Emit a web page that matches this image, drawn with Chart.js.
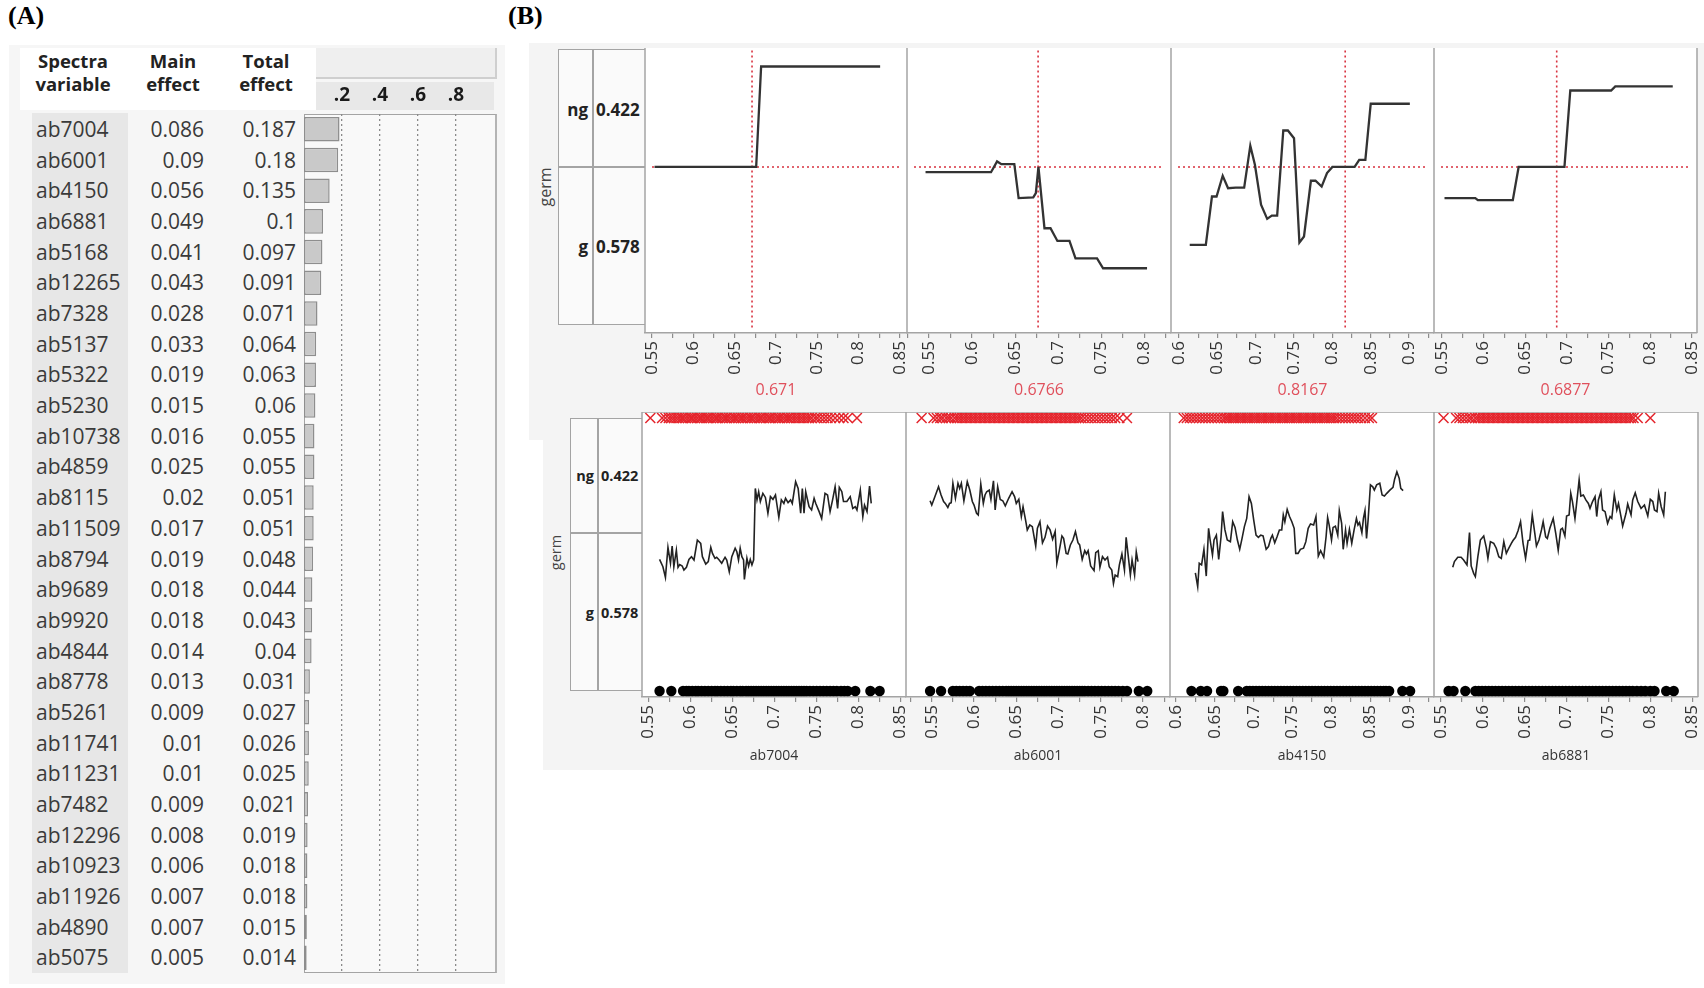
<!DOCTYPE html>
<html>
<head>
<meta charset="utf-8">
<script src="https://cdn.jsdelivr.net/npm/chart.js@4.4.1/dist/chart.umd.min.js"></script>
<style>
  body { margin: 0; width: 1704px; height: 988px; background: #fff; position: relative; overflow: hidden;
         font-family: "Open Sans", "DejaVu Sans", sans-serif; color: #333; }
  .abs { position: absolute; }
  .tag { font-family: "Liberation Serif", serif; font-weight: bold; font-size: 26px; color: #000; }
  .hdr { font-weight: bold; font-size: 18.5px; line-height: 23px; text-align: center; color: #222; }
  .row { position: absolute; left: 0; width: 300px; height: 30.68px; font-size: 21px; color: #3a3a3a; }
  .row span { position: absolute; top: 0; line-height: 30.68px; white-space: nowrap; }
  .lbl { font-weight: bold; color: #222; white-space: nowrap; }
  .germ { transform: rotate(-90deg); transform-origin: center; color: #444; white-space: nowrap; }
  canvas { position: absolute; }
</style>
</head>
<body>

<div class="abs tag" style="left:8px;top:1px;">(A)</div>
<div class="abs tag" style="left:508px;top:1px;">(B)</div>

<!-- panel A backgrounds -->
<div class="abs" style="left:9px;top:45px;width:496px;height:939px;background:#f6f6f6;"></div>
<div class="abs" style="left:20px;top:48px;width:296px;height:62px;background:#fff;"></div>
<div class="abs" style="left:316px;top:48px;width:179px;height:29px;background:#efefef;border-right:2px solid #cfcfcf;border-bottom:2px solid #cfcfcf;"></div>
<div class="abs" style="left:316px;top:82px;width:178px;height:28px;background:#e8e8e8;"></div>
<div class="abs" style="left:32px;top:113px;width:96px;height:860px;background:#e7e7e7;"></div>
<div class="abs" style="left:304px;top:114px;width:190px;height:857px;background:#f9f9f9;border:1.5px solid #a4a4a4;border-right:2.5px solid #b4b4b4;"></div>

<div class="abs hdr" style="left:23px;top:49px;width:100px;">Spectra<br>variable</div>
<div class="abs hdr" style="left:123px;top:49px;width:100px;">Main<br>effect</div>
<div class="abs hdr" style="left:216px;top:49px;width:100px;">Total<br>effect</div>
<div id="rows" class="abs" style="left:0;top:114px;width:300px;height:860px;"></div>

<!-- panel B backgrounds -->
<div class="abs" style="left:529px;top:43px;width:1175px;height:397px;background:#f4f4f4;"></div>
<div class="abs" style="left:543px;top:407px;width:1161px;height:363px;background:#f4f4f4;"></div>

<!-- top label box -->
<div class="abs" style="left:558px;top:49px;width:87px;height:276px;background:#fafafa;border:1.5px solid #a4a4a4;border-right:none;box-sizing:border-box;"></div>
<div class="abs" style="left:592px;top:49px;width:1.5px;height:276px;background:#a4a4a4;"></div>
<div class="abs" style="left:558px;top:166px;width:87px;height:1.5px;background:#a4a4a4;"></div>
<div id="topLevels"></div>
<div class="abs germ" style="left:525px;top:176px;width:40px;text-align:center;font-size:16px;">germ</div>

<!-- bottom label box -->
<div class="abs" style="left:570px;top:418px;width:72px;height:273px;background:#fafafa;border:1.5px solid #a4a4a4;border-right:none;box-sizing:border-box;"></div>
<div class="abs" style="left:597px;top:418px;width:1.5px;height:273px;background:#a4a4a4;"></div>
<div class="abs" style="left:570px;top:532px;width:72px;height:1.5px;background:#a4a4a4;"></div>
<div id="botLevels"></div>
<div class="abs germ" style="left:535px;top:543px;width:40px;text-align:center;font-size:14.5px;">germ</div>

<canvas id="bars" width="190" height="893" style="left:304px;top:80px;"></canvas>
<div id="plots"></div>

<script>
// ---------- panel A data ----------
const variables = ["ab7004","ab6001","ab4150","ab6881","ab5168","ab12265","ab7328","ab5137","ab5322","ab5230",
  "ab10738","ab4859","ab8115","ab11509","ab8794","ab9689","ab9920","ab4844","ab8778","ab5261","ab11741",
  "ab11231","ab7482","ab12296","ab10923","ab11926","ab4890","ab5075"];
const mainEffect = ["0.086","0.09","0.056","0.049","0.041","0.043","0.028","0.033","0.019","0.015","0.016","0.025",
  "0.02","0.017","0.019","0.018","0.018","0.014","0.013","0.009","0.01","0.01","0.009","0.008","0.006","0.007","0.007","0.005"];
const totalEffect = [0.187,0.18,0.135,0.1,0.097,0.091,0.071,0.064,0.063,0.06,0.055,0.055,0.051,0.051,0.048,0.044,
  0.043,0.04,0.031,0.027,0.026,0.025,0.021,0.019,0.018,0.018,0.015,0.014];
const barTicks = [0.2, 0.4, 0.6, 0.8];
const barTickLabels = [".2", ".4", ".6", ".8"];

// ---------- panel B data ----------
const factors = ["ab7004", "ab6001", "ab4150", "ab6881"];
const currentValues = [0.671, 0.6766, 0.8167, 0.6877];
const currentLabels = ["0.671", "0.6766", "0.8167", "0.6877"];
const levels = ["ng", "g"];
const levelProbs = ["0.422", "0.578"];
const predicted = 0.578;

const ticks7004 = [0.55,0.575,0.6,0.625,0.65,0.675,0.7,0.725,0.75,0.775,0.8,0.825,0.85];
const ticks6001 = [0.525,0.55,0.575,0.6,0.625,0.65,0.675,0.7,0.725,0.75,0.775,0.8,0.825];
const ticks4150 = [0.6,0.625,0.65,0.675,0.7,0.725,0.75,0.775,0.8,0.825,0.85,0.875,0.9,0.925];
const ticks6881 = [0.55,0.575,0.6,0.625,0.65,0.675,0.7,0.725,0.75,0.775,0.8,0.825,0.85];

// profiler traces: [factor value, cumulative probability]
const prof7004 = [[0.553,0.578],[0.676,0.578],[0.682,0.942],[0.826,0.942]];
const prof6001 = [[0.546,0.559],[0.622,0.559],[0.629,0.598],[0.634,0.588],[0.649,0.588],[0.654,0.465],
  [0.671,0.468],[0.674,0.483],[0.677,0.578],[0.684,0.356],[0.691,0.356],[0.699,0.310],[0.713,0.310],
  [0.720,0.247],[0.745,0.247],[0.752,0.211],[0.803,0.211]];
const prof4150 = [[0.614,0.296],[0.635,0.296],[0.643,0.471],[0.649,0.471],[0.657,0.546],[0.664,0.501],
  [0.674,0.503],[0.685,0.503],[0.693,0.655],[0.699,0.586],[0.707,0.441],[0.715,0.390],[0.721,0.402],
  [0.728,0.402],[0.736,0.710],[0.742,0.710],[0.750,0.682],[0.757,0.304],[0.763,0.326],[0.772,0.528],
  [0.778,0.528],[0.786,0.507],[0.793,0.556],[0.800,0.578],[0.829,0.578],[0.835,0.604],[0.843,0.604],
  [0.850,0.807],[0.901,0.807]];
const prof6881 = [[0.553,0.465],[0.590,0.465],[0.593,0.458],[0.635,0.458],[0.642,0.578],[0.697,0.578],
  [0.704,0.855],[0.753,0.855],[0.758,0.870],[0.827,0.870]];

// observed-probability traces
const obs7004 = [[0.563,0.482],[0.567,0.455],[0.570,0.416],[0.573,0.526],[0.576,0.468],[0.578,0.531],[0.580,0.455],
  [0.583,0.516],[0.585,0.453],[0.587,0.463],[0.590,0.458],[0.592,0.443],[0.595,0.453],[0.598,0.482],[0.601,0.492],
  [0.604,0.480],[0.608,0.553],[0.612,0.541],[0.614,0.492],[0.618,0.465],[0.621,0.474],[0.624,0.526],[0.626,0.504],
  [0.629,0.486],[0.631,0.490],[0.634,0.480],[0.637,0.468],[0.641,0.490],[0.643,0.480],[0.646,0.437],[0.649,0.492],
  [0.653,0.523],[0.655,0.510],[0.657,0.480],[0.659,0.523],[0.661,0.492],[0.663,0.480],[0.664,0.409],[0.667,0.486],
  [0.669,0.458],[0.671,0.482],[0.673,0.462],[0.675,0.480],[0.677,0.742],[0.679,0.700],[0.681,0.730],[0.683,0.694],
  [0.686,0.724],[0.689,0.709],[0.692,0.651],[0.695,0.712],[0.698,0.702],[0.701,0.718],[0.705,0.636],[0.708,0.700],
  [0.711,0.687],[0.713,0.706],[0.716,0.690],[0.719,0.700],[0.721,0.687],[0.725,0.767],[0.728,0.742],[0.731,0.651],
  [0.733,0.742],[0.735,0.651],[0.737,0.730],[0.741,0.675],[0.744,0.663],[0.747,0.706],[0.749,0.687],[0.753,0.657],
  [0.756,0.632],[0.760,0.724],[0.763,0.718],[0.766,0.657],[0.769,0.700],[0.772,0.748],[0.775,0.669],[0.777,0.746],
  [0.780,0.730],[0.782,0.694],[0.786,0.694],[0.790,0.712],[0.793,0.669],[0.796,0.675],[0.798,0.663],[0.802,0.736],
  [0.805,0.639],[0.807,0.681],[0.810,0.657],[0.813,0.751],[0.815,0.687]];
const obs6001 = [[0.548,0.697],[0.550,0.681],[0.553,0.706],[0.558,0.748],[0.561,0.718],[0.564,0.694],[0.566,0.687],
  [0.569,0.672],[0.571,0.687],[0.573,0.690],[0.575,0.761],[0.578,0.706],[0.581,0.761],[0.583,0.742],[0.585,0.761],
  [0.588,0.696],[0.592,0.767],[0.595,0.736],[0.598,0.694],[0.600,0.681],[0.603,0.651],[0.605,0.645],[0.608,0.758],
  [0.611,0.687],[0.613,0.718],[0.615,0.730],[0.618,0.736],[0.620,0.702],[0.623,0.770],[0.625,0.663],[0.628,0.748],
  [0.631,0.702],[0.634,0.697],[0.637,0.678],[0.641,0.706],[0.645,0.730],[0.648,0.712],[0.650,0.687],[0.653,0.702],
  [0.656,0.639],[0.658,0.675],[0.661,0.626],[0.663,0.590],[0.666,0.608],[0.669,0.602],[0.673,0.531],[0.675,0.596],
  [0.678,0.620],[0.681,0.543],[0.684,0.563],[0.687,0.604],[0.690,0.590],[0.693,0.556],[0.696,0.584],[0.698,0.468],
  [0.701,0.516],[0.704,0.568],[0.706,0.559],[0.709,0.504],[0.711,0.502],[0.714,0.535],[0.717,0.553],[0.720,0.584],
  [0.723,0.543],[0.725,0.535],[0.728,0.482],[0.731,0.514],[0.733,0.502],[0.735,0.514],[0.738,0.458],[0.742,0.441],
  [0.744,0.507],[0.747,0.514],[0.749,0.453],[0.752,0.492],[0.755,0.480],[0.758,0.490],[0.760,0.455],[0.763,0.443],
  [0.765,0.394],[0.767,0.425],[0.770,0.419],[0.772,0.462],[0.775,0.502],[0.778,0.443],[0.780,0.563],[0.783,0.480],
  [0.785,0.425],[0.787,0.480],[0.790,0.425],[0.792,0.510],[0.794,0.474]];
const obs4150 = [[0.625,0.433],[0.628,0.382],[0.630,0.468],[0.633,0.462],[0.636,0.519],[0.639,0.421],[0.642,0.596],
  [0.644,0.553],[0.647,0.498],[0.649,0.553],[0.652,0.571],[0.655,0.482],[0.658,0.565],[0.660,0.657],[0.663,0.590],
  [0.666,0.553],[0.670,0.547],[0.673,0.620],[0.676,0.599],[0.679,0.553],[0.682,0.519],[0.685,0.559],[0.688,0.602],
  [0.691,0.632],[0.694,0.712],[0.697,0.687],[0.700,0.626],[0.703,0.571],[0.706,0.563],[0.709,0.571],[0.712,0.568],
  [0.716,0.519],[0.719,0.529],[0.722,0.559],[0.724,0.571],[0.727,0.543],[0.730,0.565],[0.733,0.590],[0.736,0.590],
  [0.738,0.645],[0.740,0.620],[0.743,0.665],[0.746,0.639],[0.749,0.620],[0.752,0.596],[0.754,0.504],[0.757,0.504],
  [0.760,0.519],[0.764,0.523],[0.767,0.547],[0.770,0.596],[0.773,0.612],[0.777,0.608],[0.780,0.639],[0.783,0.494],
  [0.786,0.514],[0.790,0.490],[0.793,0.565],[0.795,0.636],[0.797,0.608],[0.800,0.553],[0.802,0.599],[0.805,0.604],
  [0.808,0.571],[0.810,0.661],[0.813,0.614],[0.815,0.519],[0.818,0.590],[0.820,0.541],[0.823,0.592],[0.826,0.541],
  [0.829,0.590],[0.832,0.632],[0.834,0.608],[0.836,0.617],[0.839,0.580],[0.841,0.632],[0.843,0.661],[0.845,0.559],
  [0.847,0.626],[0.850,0.755],[0.853,0.748],[0.855,0.736],[0.858,0.755],[0.862,0.761],[0.865,0.718],[0.868,0.714],
  [0.871,0.724],[0.875,0.736],[0.879,0.746],[0.881,0.775],[0.884,0.803],[0.887,0.779],[0.889,0.742],[0.892,0.734]];
const obs6881 = [[0.564,0.453],[0.566,0.474],[0.570,0.490],[0.574,0.490],[0.577,0.480],[0.581,0.462],[0.584,0.580],
  [0.586,0.458],[0.589,0.431],[0.591,0.419],[0.594,0.492],[0.597,0.553],[0.601,0.568],[0.604,0.526],[0.606,0.486],
  [0.609,0.547],[0.613,0.541],[0.616,0.523],[0.619,0.492],[0.622,0.486],[0.625,0.547],[0.628,0.504],[0.631,0.523],
  [0.634,0.541],[0.636,0.551],[0.639,0.563],[0.642,0.587],[0.645,0.620],[0.648,0.541],[0.651,0.486],[0.654,0.551],
  [0.656,0.553],[0.659,0.645],[0.662,0.578],[0.664,0.531],[0.667,0.553],[0.670,0.590],[0.672,0.620],[0.675,0.565],
  [0.677,0.559],[0.680,0.596],[0.684,0.632],[0.687,0.578],[0.690,0.516],[0.693,0.592],[0.695,0.596],[0.698,0.568],
  [0.700,0.641],[0.703,0.645],[0.705,0.724],[0.707,0.694],[0.710,0.632],[0.712,0.687],[0.715,0.773],[0.717,0.714],
  [0.720,0.718],[0.723,0.700],[0.726,0.687],[0.728,0.669],[0.731,0.694],[0.734,0.712],[0.736,0.639],[0.738,0.700],
  [0.741,0.730],[0.743,0.663],[0.746,0.657],[0.749,0.614],[0.752,0.639],[0.754,0.632],[0.757,0.718],[0.760,0.663],
  [0.762,0.687],[0.765,0.639],[0.767,0.604],[0.771,0.651],[0.773,0.685],[0.777,0.645],[0.779,0.700],[0.782,0.726],
  [0.785,0.694],[0.789,0.669],[0.791,0.675],[0.793,0.681],[0.797,0.641],[0.800,0.702],[0.803,0.694],[0.805,0.663],
  [0.808,0.657],[0.810,0.724],[0.813,0.675],[0.816,0.645],[0.818,0.730]];

// observed rows: factor values of "ng" (top, x marks) and "g" (bottom, dots)
const ng7004 = [0.552,0.566,0.570,0.574,0.577,0.580,0.583,0.586,0.589,0.591,0.594,0.597,0.600,0.602,0.605,0.608,
  0.611,0.613,0.616,0.619,0.621,0.624,0.627,0.630,0.632,0.635,0.638,0.641,0.643,0.646,0.649,0.652,0.654,0.657,
  0.660,0.662,0.665,0.668,0.671,0.673,0.676,0.679,0.682,0.684,0.687,0.690,0.693,0.695,0.698,0.701,0.704,0.706,
  0.709,0.712,0.715,0.717,0.720,0.723,0.726,0.729,0.732,0.735,0.738,0.741,0.744,0.748,0.751,0.755,0.759,0.763,
  0.767,0.772,0.777,0.782,0.787,0.798];
const g7004 = [0.563,0.577,0.591,0.595,0.598,0.602,0.606,0.609,0.613,0.617,0.621,0.625,0.629,0.632,0.636,0.640,
  0.644,0.648,0.651,0.655,0.659,0.662,0.666,0.669,0.672,0.675,0.678,0.681,0.684,0.687,0.690,0.693,0.696,0.699,
  0.702,0.705,0.708,0.711,0.714,0.717,0.720,0.723,0.726,0.729,0.732,0.735,0.738,0.742,0.746,0.750,0.754,0.758,
  0.762,0.766,0.770,0.774,0.779,0.783,0.787,0.796,0.814,0.825];
const ng6001 = [0.538,0.552,0.556,0.560,0.563,0.567,0.570,0.573,0.577,0.580,0.583,0.586,0.589,0.592,0.595,0.598,
  0.601,0.604,0.607,0.610,0.613,0.616,0.619,0.622,0.625,0.628,0.631,0.634,0.637,0.640,0.643,0.646,0.649,0.652,
  0.655,0.658,0.661,0.664,0.667,0.670,0.673,0.676,0.679,0.682,0.685,0.688,0.691,0.694,0.697,0.700,0.703,0.706,
  0.709,0.712,0.715,0.718,0.721,0.724,0.727,0.731,0.735,0.739,0.743,0.747,0.751,0.755,0.759,0.763,0.767,0.772,0.781];
const g6001 = [0.548,0.561,0.575,0.579,0.583,0.587,0.591,0.595,0.606,0.610,0.614,0.618,0.622,0.626,0.630,0.634,
  0.638,0.641,0.644,0.647,0.650,0.653,0.656,0.659,0.662,0.665,0.668,0.671,0.674,0.677,0.680,0.683,0.686,0.689,
  0.692,0.695,0.698,0.701,0.704,0.707,0.710,0.713,0.716,0.719,0.722,0.725,0.728,0.731,0.735,0.739,0.743,0.747,
  0.751,0.755,0.759,0.763,0.767,0.771,0.776,0.781,0.795,0.805];
const ng4150 = [0.610,0.614,0.618,0.622,0.626,0.630,0.634,0.638,0.642,0.646,0.650,0.654,0.658,0.662,0.665,0.668,
  0.671,0.674,0.677,0.680,0.683,0.686,0.689,0.692,0.695,0.698,0.701,0.704,0.707,0.710,0.713,0.716,0.719,0.722,
  0.725,0.728,0.731,0.734,0.737,0.740,0.743,0.746,0.749,0.752,0.755,0.758,0.761,0.764,0.767,0.770,0.773,0.776,
  0.779,0.782,0.785,0.788,0.791,0.794,0.797,0.800,0.803,0.806,0.810,0.814,0.818,0.822,0.826,0.830,0.834,0.838,
  0.843,0.848,0.852];
const g4150 = [0.620,0.632,0.640,0.658,0.661,0.680,0.691,0.695,0.699,0.703,0.707,0.711,0.715,0.719,0.723,0.727,
  0.731,0.735,0.739,0.743,0.747,0.751,0.755,0.759,0.763,0.767,0.771,0.775,0.779,0.783,0.787,0.791,0.795,0.799,
  0.803,0.807,0.811,0.815,0.819,0.823,0.827,0.831,0.835,0.839,0.843,0.847,0.851,0.855,0.859,0.863,0.867,0.870,
  0.874,0.891,0.901];
const ng6881 = [0.553,0.568,0.572,0.576,0.580,0.584,0.587,0.591,0.594,0.597,0.600,0.603,0.606,0.609,0.612,0.615,
  0.618,0.621,0.624,0.627,0.630,0.633,0.636,0.639,0.642,0.645,0.648,0.651,0.654,0.657,0.660,0.663,0.666,0.669,
  0.672,0.675,0.678,0.681,0.684,0.687,0.690,0.693,0.696,0.699,0.702,0.705,0.708,0.711,0.714,0.717,0.720,0.723,
  0.726,0.729,0.732,0.735,0.738,0.741,0.744,0.747,0.750,0.753,0.756,0.759,0.762,0.765,0.768,0.771,0.774,0.777,
  0.780,0.785,0.800];
const g6881 = [0.559,0.565,0.579,0.591,0.595,0.599,0.603,0.607,0.611,0.615,0.619,0.623,0.627,0.631,0.635,0.639,
  0.643,0.647,0.651,0.655,0.659,0.663,0.667,0.671,0.675,0.679,0.683,0.687,0.691,0.695,0.699,0.703,0.707,0.711,
  0.715,0.719,0.723,0.727,0.731,0.735,0.739,0.743,0.747,0.751,0.755,0.759,0.763,0.767,0.771,0.775,0.779,0.784,
  0.789,0.794,0.800,0.805,0.819,0.828];

const FONT = '"Open Sans", "DejaVu Sans", sans-serif';
const ROW_H = 30.68;

// table text
const rowsEl = document.getElementById("rows");
variables.forEach((v, i) => {
  const r = document.createElement("div");
  r.className = "row";
  r.style.top = (i * ROW_H) + "px";
  r.innerHTML = '<span style="left:36px">' + v + '</span>' +
    '<span style="right:96px">' + mainEffect[i] + '</span>' +
    '<span style="right:4px">' + totalEffect[i] + '</span>';
  rowsEl.appendChild(r);
});

// level labels in the boxes
function levelLabels(el, right, left, ys, size) {
  levels.forEach((lv, i) => {
    el.insertAdjacentHTML("beforeend",
      '<div class="abs lbl" style="right:' + (1704 - right) + 'px;top:' + (ys[i] - size * 0.7) + 'px;font-size:' + size + 'px">' + lv + '</div>' +
      '<div class="abs lbl" style="left:' + left + 'px;top:' + (ys[i] - size * 0.7) + 'px;font-size:' + size + 'px">' + levelProbs[i] + '</div>');
  });
}
levelLabels(document.getElementById("topLevels"), 588, 596, [110, 247], 17);
levelLabels(document.getElementById("botLevels"), 594, 601, [476, 613], 14.5);

// bar chart
new Chart(document.getElementById("bars"), {
  type: "bar",
  data: {
    labels: variables,
    datasets: [{
      data: totalEffect,
      backgroundColor: "#c9c9c9",
      borderColor: "#8e8e8e",
      borderWidth: 1.5,
      borderSkipped: false,
      barPercentage: 0.8,
      categoryPercentage: 1
    }]
  },
  options: {
    indexAxis: "y",
    responsive: false,
    animation: false,
    layout: { padding: 0, autoPadding: false },
    plugins: { legend: { display: false }, tooltip: { enabled: false } },
    scales: {
      x: {
        position: "top", min: 0, max: 1,
        afterBuildTicks: s => { s.ticks = barTicks.map(v => ({ value: v })); },
        afterFit: s => { s.height = 34; s.paddingLeft = 0; s.paddingRight = 0; },
        ticks: { padding: 7, color: "#1a1a1a", font: { family: FONT, size: 19, weight: "bold" },
                 callback: (v, i) => barTickLabels[i] },
        grid: { drawTicks: false, color: "#8a8a8a", lineWidth: 1.3 },
        border: { display: false, dash: [2, 3] }
      },
      y: { display: false }
    }
  }
});

// profile panels
const framePlugin = {
  id: "frame",
  beforeDraw(chart) {
    const { ctx, chartArea: a } = chart;
    ctx.save();
    ctx.fillStyle = "#ffffff";
    ctx.fillRect(a.left, a.top, a.right - a.left, a.bottom - a.top);
    ctx.restore();
  },
  beforeDatasetsDraw(chart, args, o) {
    if (o.refX == null) return;
    const { ctx, chartArea: a, scales: { x, y } } = chart;
    ctx.save();
    ctx.strokeStyle = "#d8323f";
    ctx.lineWidth = 1.6;
    ctx.setLineDash([2, 3]);
    const px = x.getPixelForValue(o.refX);
    ctx.beginPath(); ctx.moveTo(px, y.getPixelForValue(1)); ctx.lineTo(px, y.getPixelForValue(-0.01)); ctx.stroke();
    const py = y.getPixelForValue(o.refY);
    ctx.beginPath(); ctx.moveTo(a.left + 7, py); ctx.lineTo(a.right - 8, py); ctx.stroke();
    ctx.restore();
  },
  afterDraw(chart, args, o) {
    const { ctx, chartArea: a } = chart;
    ctx.save();
    ctx.strokeStyle = "#a4a4a4";
    ctx.lineWidth = 1.5;
    ctx.beginPath();
    ctx.moveTo(a.left, a.bottom); ctx.lineTo(a.left, a.top);
    if (o.top) ctx.lineTo(a.right, a.top);
    if (o.right) { ctx.moveTo(a.right, a.top); ctx.lineTo(a.right, a.bottom); }
    ctx.stroke();
    ctx.restore();
  }
};

const tickSets = [ticks7004, ticks6001, ticks4150, ticks6881];
const profiles = [prof7004, prof6001, prof4150, prof6881];
const observed = [obs7004, obs6001, obs4150, obs6881];
const ngRows = [ng7004, ng6001, ng4150, ng6881];
const gRows = [g7004, g6001, g4150, g6881];

// axis geometry per panel (layout, not data)
const topAreas = [[645, 907, 0.5415, 0.8585], [907, 1171, 0.5245, 0.8308], [1171, 1434, 0.5896, 0.9325], [1434, 1697, 0.5404, 0.8561]];
const botAreas = [[642, 906, 0.5421, 0.8564], [906, 1170, 0.5195, 0.8319], [1170, 1434, 0.5924, 0.9317], [1434, 1698, 0.5416, 0.857]];

function xAxis(i, area, title, titleColor, titleSize) {
  const tv = tickSets[i];
  return {
    type: "linear", min: area[2], max: area[3],
    afterBuildTicks: s => { s.ticks = tv.map(v => ({ value: v })); },
    afterFit: s => { s.height = 70; s.paddingLeft = 0; s.paddingRight = 0; },
    ticks: {
      autoSkip: false, minRotation: 90, maxRotation: 90, padding: 3, color: "#333",
      font: { family: FONT, size: 17 },
      callback: v => Math.abs(v * 20 - Math.round(v * 20)) < 1e-6 ? String(Number(v.toFixed(2))) : ""
    },
    grid: { drawOnChartArea: false, tickLength: 5, color: "#8c8c8c", lineWidth: 1.2 },
    border: { color: "#a4a4a4", width: 1.5 },
    title: { display: true, text: title, color: titleColor, font: { family: FONT, size: titleSize }, padding: { top: 0, bottom: 3 } }
  };
}

function makeCanvas(left, top, w, h) {
  const c = document.createElement("canvas");
  c.width = w; c.height = h;
  c.style.left = left + "px"; c.style.top = top + "px";
  document.getElementById("plots").appendChild(c);
  return c;
}

factors.forEach((f, i) => {
  // prediction profiler row
  const ta = topAreas[i];
  const c1 = makeCanvas(ta[0] - 10, 48, ta[1] - ta[0] + 20, 285 + 70);
  new Chart(c1, {
    type: "scatter",
    data: { datasets: [{
      data: profiles[i].map(p => ({ x: p[0], y: p[1] })),
      showLine: true, borderColor: "#333", borderWidth: 2.3, pointRadius: 0, tension: 0
    }] },
    options: {
      responsive: false, animation: false,
      layout: { padding: { left: 10, right: 10, top: 0, bottom: 0 }, autoPadding: false },
      plugins: { legend: { display: false }, tooltip: { enabled: false },
                 frame: { refX: currentValues[i], refY: predicted, right: i === 3, top: false } },
      scales: {
        x: xAxis(i, ta, currentLabels[i], "#e0505c", 16),
        y: { display: false, min: -0.0236, max: 1.009 }
      }
    },
    plugins: [framePlugin]
  });

  // observed data row
  const ba = botAreas[i];
  const c2 = makeCanvas(ba[0] - 10, 412, ba[1] - ba[0] + 20, 285 + 70);
  new Chart(c2, {
    type: "scatter",
    data: { datasets: [
      { data: observed[i].map(p => ({ x: p[0], y: p[1] })),
        showLine: true, borderColor: "#222", borderWidth: 1.6, pointRadius: 0, tension: 0 },
      { data: ngRows[i].map(v => ({ x: v, y: 1 })),
        pointStyle: "crossRot", pointRadius: 7, borderColor: "#e4242c", borderWidth: 1.5, showLine: false, clip: false },
      { data: gRows[i].map(v => ({ x: v, y: 0 })),
        pointStyle: "circle", pointRadius: 5.2, backgroundColor: "#000", borderColor: "#000", borderWidth: 0, showLine: false }
    ] },
    options: {
      responsive: false, animation: false,
      layout: { padding: { left: 10, right: 10, top: 0, bottom: 0 }, autoPadding: false },
      plugins: { legend: { display: false }, tooltip: { enabled: false },
                 frame: { right: i === 3, top: true } },
      scales: {
        x: xAxis(i, ba, f, "#333", 14),
        y: { display: false, min: -0.022, max: 1.022 }
      }
    },
    plugins: [framePlugin]
  });
});
</script>
</body>
</html>
